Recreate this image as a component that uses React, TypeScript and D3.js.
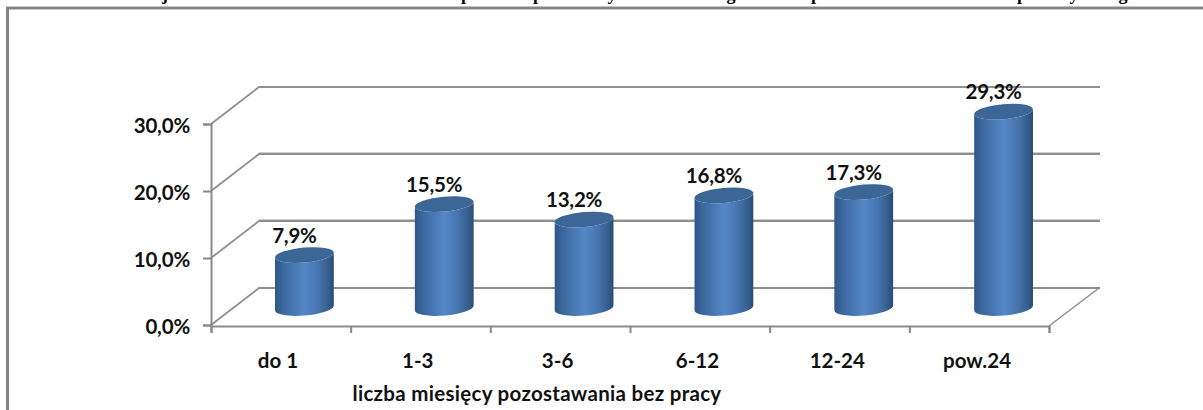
import React, { useRef, useEffect } from 'react';
import * as d3 from 'd3';

const categories = ['do 1', '1-3', '3-6', '6-12', '12-24', 'pow.24'];
const values = [7.9, 15.5, 13.2, 16.8, 17.3, 29.3];
const valueLabels = ['7,9%', '15,5%', '13,2%', '16,8%', '17,3%', '29,3%'];
const yTicks = [0, 10, 20, 30];
const yTickLabels = ['0,0%', '10,0%', '20,0%', '30,0%'];
const axisTitle = 'liczba miesięcy pozostawania bez pracy';
// only the descenders of the heading survive in the crop
const headingGlyphs = ['j', 'p', 'p', 'y', 'g', 'p', 'p', 'y', 'g'];
const headingGlyphX = [165, 466, 538, 612, 731, 816, 1022, 1074, 1123];

const width = 1203;
const height = 410;
const fontFamily = 'Lato, sans-serif';
const fontSize = 20.5;

const App = () => {
    const svgRef = useRef<SVGSVGElement>(null);

    useEffect(() => {
        const svg = d3.select(svgRef.current);
        svg.selectAll('*').remove();

        const left = 211;
        const right = 1049;
        const wallDx = 48;
        const wallDy = -37;
        const barDx = 23.5;
        const barDy = -17;
        const rx = 29.5;
        const ry = 7.5;
        const tilt = -5;

        const x = d3.scaleBand().domain(categories).range([left, right + 1]);
        const y = d3.scaleLinear().domain([0, 30]).range([325, 124]);

        const defs = svg.append('defs');
        const grad = defs.append('linearGradient').attr('id', 'cyl').attr('x1', 0).attr('x2', 1).attr('y1', 0).attr('y2', 0);
        [[0, '#2f5585'], [0.12, '#3a669c'], [0.5, '#5587c7'], [0.75, '#4673ad'], [0.92, '#345b8b'], [1, '#2a4a74']].forEach(([o, c]) => {
            grad.append('stop').attr('offset', o as number).attr('stop-color', c as string);
        });

        // frame, open to the right and bottom
        svg.append('path')
            .attr('d', d3.line()([[7.5, height], [7.5, 8], [width, 8]]))
            .attr('fill', 'none').attr('stroke', '#868686').attr('stroke-width', 3);

        // heading fragments
        svg.append('g')
            .selectAll('text')
            .data(headingGlyphs)
            .join('text')
            .attr('x', (_, i) => headingGlyphX[i])
            .attr('y', 0)
            .attr('text-anchor', 'middle')
            .attr('font-family', '"Liberation Serif", serif')
            .attr('font-weight', 'bold')
            .attr('font-size', 18)
            .text(d => d);

        // back wall gridlines and side diagonals
        const grid = svg.append('g').attr('fill', 'none');
        grid.selectAll('path.shade')
            .data([10, 20])
            .join('path')
            .attr('class', 'shade')
            .attr('d', d => d3.line()([[left + wallDx, y(d) + wallDy - 1.5], [1100, y(d) + wallDy - 1.5]]))
            .attr('stroke', '#cfcfcf')
            .attr('stroke-width', 1);
        grid.selectAll('path.wall')
            .data(yTicks)
            .join('path')
            .attr('class', 'wall')
            .attr('d', d => d3.line()([[left, y(d)], [left + wallDx, y(d) + wallDy], [1100, y(d) + wallDy]]))
            .attr('stroke', '#8f8f8f')
            .attr('stroke-width', 1.8);
        grid.append('path')
            .attr('d', d3.line()([[right, 326], [1099, y(0) + wallDy]]))
            .attr('stroke', '#8f8f8f')
            .attr('stroke-width', 1.5);

        // axes
        const yAxis = d3.axisLeft(y)
            .tickValues(yTicks)
            .tickSize(8)
            .tickPadding(13)
            .tickFormat((_, i) => yTickLabels[i]);
        const yG = svg.append('g').attr('transform', `translate(${left},0)`).call(yAxis);

        const xAxis = d3.axisBottom(d3.scalePoint().domain(d3.range(categories.length + 1).map(String)).range([left, right]))
            .tickSize(7)
            .tickFormat(() => '');
        const xG = svg.append('g').attr('transform', 'translate(0,326)').call(xAxis);

        [yG, xG].forEach(g => {
            g.select('.domain').attr('stroke', '#8a8a8a').attr('stroke-width', 2);
            g.selectAll('.tick line').attr('stroke', '#8a8a8a').attr('stroke-width', 2);
        });
        yG.selectAll('.tick text')
            .attr('y', 2)
            .attr('font-family', fontFamily)
            .attr('font-weight', 'bold')
            .attr('font-size', fontSize)
            .attr('letter-spacing', -0.2)
            .attr('fill', '#111');

        svg.append('g')
            .selectAll('text')
            .data(categories)
            .join('text')
            .attr('x', d => x(d)! + x.bandwidth() / 2 - 3)
            .attr('y', 368)
            .attr('text-anchor', 'middle')
            .attr('font-family', fontFamily)
            .attr('font-weight', 'bold')
            .attr('font-size', fontSize)
            .attr('fill', '#111')
            .text(d => d);

        svg.append('text')
            .attr('x', 537)
            .attr('y', 401)
            .attr('text-anchor', 'middle')
            .attr('font-family', fontFamily)
            .attr('font-weight', 'bold')
            .attr('font-size', fontSize)
            .attr('letter-spacing', 0.3)
            .attr('fill', '#111')
            .text(axisTitle);

        // cylinders
        const dx = rx * Math.cos(tilt * Math.PI / 180);
        const dy = rx * Math.sin(tilt * Math.PI / 180);
        const bars = svg.append('g')
            .selectAll('g')
            .data(categories)
            .join('g')
            .attr('transform', d => `translate(${x(d)! + x.bandwidth() / 2 + barDx},0)`);

        bars.append('path')
            .attr('fill', 'url(#cyl)')
            .attr('d', (_, i) => {
                const top = y(values[i]) + barDy;
                const base = y(0) + barDy;
                return `M${-dx},${top - dy}L${-dx},${base - dy}A${rx},${ry} ${tilt} 0 0 ${dx},${base + dy}L${dx},${top + dy}A${rx},${ry} ${tilt} 0 1 ${-dx},${top - dy}Z`;
            });

        bars.append('ellipse')
            .attr('rx', rx)
            .attr('ry', ry)
            .attr('fill', '#3c6696')
            .attr('transform', (_, i) => `translate(0,${y(values[i]) + barDy}) rotate(${tilt})`);

        bars.append('text')
            .attr('x', -10)
            .attr('y', (_, i) => y(values[i]) + barDy - 12.5)
            .attr('text-anchor', 'middle')
            .attr('font-family', fontFamily)
            .attr('font-weight', 'bold')
            .attr('font-size', fontSize)
            .attr('letter-spacing', -0.2)
            .attr('fill', '#111')
            .text((_, i) => valueLabels[i]);
    }, []);

    return (
        <svg
            ref={svgRef}
            width={width}
            height={height}
            style={{ position: 'absolute', left: 0, top: 0, display: 'block', background: '#fff' }}
        />
    );
};

export default App;
